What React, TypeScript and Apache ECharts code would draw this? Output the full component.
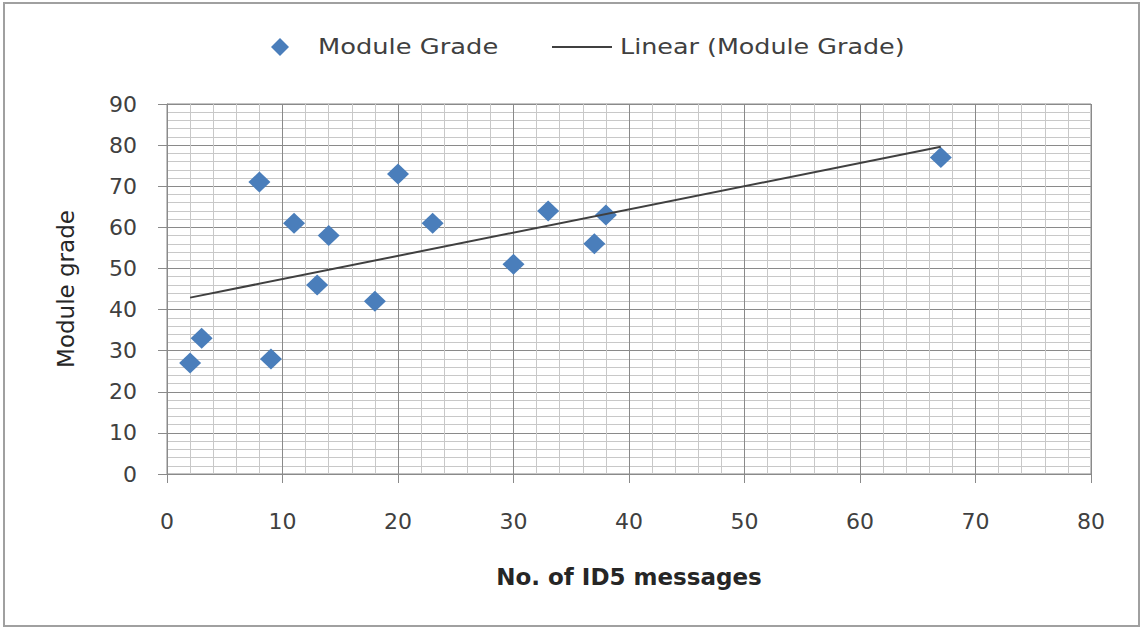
import React, { useEffect, useRef } from "react";
import * as echarts from "echarts";

const messages = [2, 3, 8, 9, 11, 13, 14, 18, 20, 23, 30, 33, 37, 38, 67];
const grades = [27, 33, 71, 28, 61, 46, 58, 42, 73, 61, 51, 64, 56, 63, 77];
const trendX = [2, 67];
const trendY = [42.9, 79.6];
const seriesName = "Module Grade";
const trendName = "Linear (Module Grade)";
const xTitle = "No. of ID5 messages";
const yTitle = "Module grade";

const FONT = "'DejaVu Sans', sans-serif";

export default function App() {
  const ref = useRef<HTMLDivElement>(null);
  useEffect(() => {
    document.body.style.margin = "0";
    const chart = echarts.init(ref.current!, null, { renderer: "svg" });
    const scatterData = messages.map((x, i) => [x, grades[i]]);
    const trendData = trendX.map((x, i) => [x, trendY[i]]);
    chart.setOption({
      animation: false,
      backgroundColor: "#ffffff",
      textStyle: { fontFamily: FONT },
      grid: {
        left: 167,
        right: 53,
        top: 104,
        bottom: 156,
        show: true,
        borderColor: "#8a8a8a",
        borderWidth: 1,
      },
      xAxis: {
        type: "value",
        min: 0,
        max: 80,
        interval: 10,
        name: xTitle,
        nameLocation: "middle",
        nameGap: 91,
        nameTextStyle: { fontSize: 23, fontWeight: "bold", color: "#262626", fontFamily: FONT },
        axisLine: { show: true, lineStyle: { color: "#8a8a8a" } },
        axisTick: { show: true, inside: false, length: 9, lineStyle: { color: "#8a8a8a" } },
        axisLabel: { margin: 36, fontSize: 22, color: "#404040", fontFamily: FONT },
        splitLine: { show: true, lineStyle: { color: "#8a8a8a", width: 1 } },
        minorTick: { show: false, splitNumber: 5 },
        minorSplitLine: { show: true, lineStyle: { color: "#c8c8c8", width: 1 } },
      },
      yAxis: {
        type: "value",
        min: 0,
        max: 90,
        interval: 10,
        name: yTitle,
        nameLocation: "middle",
        nameGap: 90,
        nameRotate: 90,
        nameTextStyle: { fontSize: 23, color: "#262626", fontFamily: FONT },
        axisLine: { show: true, lineStyle: { color: "#8a8a8a" } },
        axisTick: { show: true, inside: false, length: 9, lineStyle: { color: "#8a8a8a" } },
        axisLabel: { margin: 30, fontSize: 22, color: "#404040", fontFamily: FONT },
        splitLine: { show: true, lineStyle: { color: "#8a8a8a", width: 1 } },
        minorTick: { show: false, splitNumber: 5 },
        minorSplitLine: { show: true, lineStyle: { color: "#c8c8c8", width: 1 } },
      },
      graphic: [
        {
          type: "rect",
          shape: { x: 4, y: 3, width: 1135, height: 623 },
          style: { fill: "none", stroke: "#a0a0a0", lineWidth: 2 },
          silent: true,
        },
        {
          type: "polygon",
          shape: { points: [[280, 38], [289, 47], [280, 56], [271, 47]] },
          style: { fill: "#4a7ebb" },
        },
        {
          type: "text",
          x: 318,
          y: 47,
          scaleX: 1.17,
          style: { text: seriesName, font: `22px ${FONT}`, fill: "#404040", verticalAlign: "middle" },
        },
        {
          type: "line",
          shape: { x1: 552, y1: 47, x2: 612, y2: 47 },
          style: { stroke: "#404040", lineWidth: 2 },
        },
        {
          type: "text",
          x: 620,
          y: 47,
          scaleX: 1.155,
          style: { text: trendName, font: `22px ${FONT}`, fill: "#404040", verticalAlign: "middle" },
        },
      ],
      series: [
        {
          name: seriesName,
          type: "scatter",
          symbol: "diamond",
          symbolSize: [22, 21],
          itemStyle: { color: "#4a7ebb", opacity: 1 },
          data: scatterData,
          z: 2,
        },
        {
          name: trendName,
          type: "line",
          symbol: "none",
          lineStyle: { color: "#404040", width: 2 },
          data: trendData,
          z: 3,
        },
      ],
    });
    return () => chart.dispose();
  }, []);
  return (
    <div
      ref={ref}
      style={{ position: "absolute", left: 0, top: 0, width: 1144, height: 630 }}
    />
  );
}
